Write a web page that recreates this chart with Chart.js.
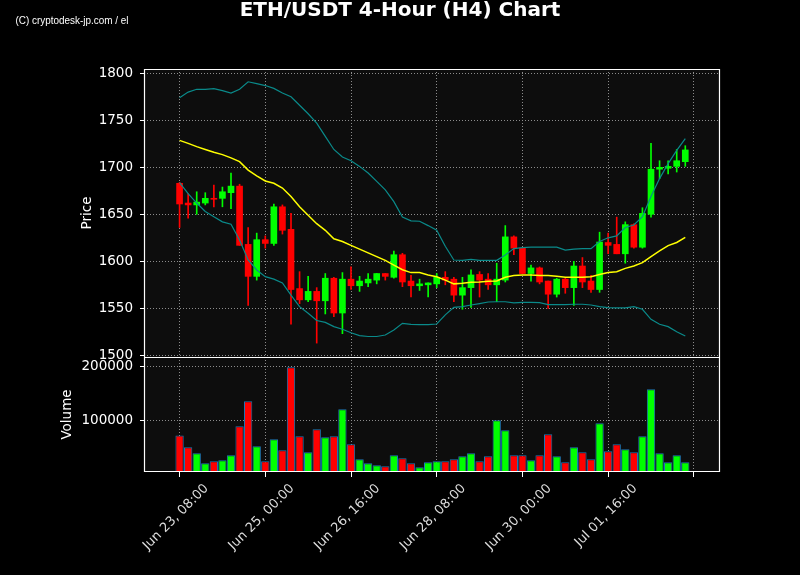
<!DOCTYPE html>
<html>
<head>
<meta charset="utf-8">
<script src="https://cdn.jsdelivr.net/npm/chart.js@4.4.1/dist/chart.umd.min.js"></script>
<style>
  body { margin: 0; background: #000; }
  canvas { position: absolute; left: 0; }
</style>
</head>
<body>
<canvas id="priceChart" width="800" height="385" style="top:0"></canvas>
<canvas id="volumeChart" width="800" height="235" style="top:340px"></canvas>
<script>
const titleText = 'ETH/USDT 4-Hour (H4) Chart';
const watermark = '(C) cryptodesk-jp.com / el';

// 4h candles, index 0 = Jun 23 08:00
const opens  = [1683,1662,1660,1662,1667,1667,1673,1680,1618,1584,1623,1619,1658,1634,1571,1559,1568,1558,1582,1545,
                1581,1574,1577,1580,1587,1583,1607,1579,1574,1575,1576,1583,1581,1564,1572,1586,1581,1575,1580,1626,
                1614,1587,1593,1579,1565,1581,1572,1595,1579,1570,1620,1618,1608,1639,1615,1650,1698,1699,1701,1706];
const highs  = [1684,1672,1674,1673,1681,1679,1694,1682,1636,1630,1627,1661,1660,1651,1589,1584,1572,1587,1583,1588,
                1594,1584,1587,1587,1587,1611,1608.5,1585,1581,1577,1587,1589,1583,1583,1591,1589,1587,1598,1638,1627,
                1614,1596,1594,1579,1582,1582,1600,1604,1585,1631,1630,1647,1642,1640,1657,1725.5,1707,1707,1719,1723];
const lows   = [1636,1646,1650,1660,1658,1658,1656,1617,1553,1580,1614,1617,1629,1533,1555,1557,1513,1544,1541,1523,
                1570,1568,1573,1576,1580,1582,1573,1562,1569,1562,1572,1575,1557,1549,1551,1562,1570,1557,1578,1607,
                1587,1579,1576,1550,1562,1566,1553,1572,1567,1567,1608,1608,1598,1614,1614,1647,1688,1693,1695,1701];
const closes = [1661,1660,1663,1667,1666,1674,1680,1617,1584,1623,1619,1658,1633,1570,1559,1568,1558,1582,1545,1581,
                1574,1579,1581,1587,1584,1607,1578,1574,1576,1577,1583,1580,1564,1572,1585.5,1580,1575,1581,1626,1614,
                1587,1593,1578,1565,1581,1572,1595,1578,1570,1620.5,1617,1608,1639,1615,1651,1698,1700,1701,1707,1718.5];
const volumes = [72000,50000,38900,20400,24100,26000,35200,88900,135200,51900,24100,64800,44400,198000,70400,40700,83300,68500,70400,120400,
                 55600,27800,20400,16700,14800,35200,29600,20400,13000,22200,24100,24100,27800,33300,38900,24100,33300,100000,81500,35200,
                 35200,26000,35200,74100,33300,22200,50000,40700,27800,94400,42600,55600,46300,40700,70400,157400,38900,22200,35200,22200];

// moving average and bollinger bands
const ma = [1728.7,1725.5,1722,1719,1716,1713.5,1710,1706,1697,1691,1685.5,1683,1678,1669,1658,1649,1640,1633,1624,1621,
            1617,1613,1609,1605,1601,1596,1591,1588,1588,1585.5,1583.5,1580,1576,1576.6,1577.7,1578,1578.7,1579,1583,1584.8,
            1585.5,1585.5,1585,1585,1584,1583,1583,1583,1583.6,1586,1588,1589,1592.5,1595,1598.6,1605,1611,1616.7,1620,1625.5];
const bbUpper = [1774,1780,1783,1783,1783.7,1781.6,1779,1783,1791,1789,1787,1784,1779,1775,1766,1757,1747,1733,1719,1711,
                 1707,1701,1694,1685,1676,1663.5,1647,1643,1642.6,1638,1633,1616,1601.4,1601,1602,1601,1601,1601,1606.7,1613.5,
                 1614.5,1615,1615,1615,1615,1612,1613,1613.5,1613.5,1621,1625,1627,1636,1638.6,1647.5,1669,1688,1704,1718,1730.5];
const bbLower = [1683.7,1672,1662,1653,1647.5,1642,1639.4,1622.7,1601.4,1590.8,1583.7,1581,1577,1564,1551.8,1544.7,1537,1535,1530.5,1527.7,
                 1524,1521,1520,1520,1521.6,1527,1534,1533,1532.6,1532.6,1533.3,1543,1551,1551.8,1553.5,1555,1556.7,1557,1557,1555.7,
                 1556.4,1556.4,1556,1554,1554,1554,1554.3,1554.3,1553.5,1551.8,1550.7,1550.4,1550.4,1551.8,1549,1538.3,1533,1530.5,1525,1520.6];

const tickIdx = [0, 10, 20, 30, 40, 50, 60];
const tickLabels = ['Jun 23, 08:00', 'Jun 25, 00:00', 'Jun 26, 16:00', 'Jun 28, 08:00', 'Jun 30, 00:00', 'Jul 01, 16:00', ''];
const priceTicks = [1500, 1550, 1600, 1650, 1700, 1750, 1800];
const volumeTicks = [100000, 200000];

const UP = '#00ff00';
const DOWN = '#ff0000';
const gridColor = '#8c8c8c';
const fontFamily = '"DejaVu Sans", sans-serif';

const candleColors = opens.map((o, i) => closes[i] >= o ? UP : DOWN);
const xy = arr => arr.map((v, i) => ({ x: i, y: v }));

const xRange = { type: 'linear', min: -4.15, max: 63.05, offset: false };
const setTicks = vals => axis => { axis.ticks = vals.map(v => ({ value: v })); };

// dark plot background + white frame around the plot area
const panelFrame = (skipBottom) => ({
    id: 'panelFrame',
    beforeDraw(chart) {
        const { ctx, chartArea: { left, top, right, bottom } } = chart;
        ctx.save();
        ctx.fillStyle = '#0d0d0d';
        ctx.fillRect(left, top, right - left, bottom - top);
        ctx.restore();
    },
    afterDraw(chart) {
        const { ctx, chartArea: { left, top, right, bottom } } = chart;
        ctx.save();
        ctx.strokeStyle = '#ffffff';
        ctx.lineWidth = 1.2;
        ctx.beginPath();
        ctx.moveTo(left + 0.5, bottom);
        ctx.lineTo(left + 0.5, top + 0.5);
        ctx.lineTo(right - 0.5, top + 0.5);
        ctx.lineTo(right - 0.5, bottom);
        if (!skipBottom) {
            ctx.moveTo(left, bottom - 0.5);
            ctx.lineTo(right, bottom - 0.5);
        }
        ctx.stroke();
        ctx.restore();
    }
});

const headerText = {
    id: 'headerText',
    afterDraw(chart) {
        const ctx = chart.ctx;
        ctx.save();
        ctx.fillStyle = '#ffffff';
        ctx.font = 'bold 20px ' + fontFamily;
        ctx.textAlign = 'center';
        ctx.textBaseline = 'middle';
        ctx.fillText(titleText, 400, 11);

        ctx.font = '10px "Liberation Sans", sans-serif';
        const w = ctx.measureText(watermark).width;
        ctx.translate(15.5, 21);
        ctx.scale(113 / w, 1);
        ctx.textAlign = 'left';
        ctx.fillText(watermark, 0, 0);
        ctx.restore();
    }
};

new Chart(document.getElementById('priceChart'), {
    data: {
        datasets: [
            { type: 'line', data: xy(ma), borderColor: '#ffff00', borderWidth: 1.5, pointRadius: 0 },
            { type: 'line', data: xy(bbUpper), borderColor: '#0a8a8a', borderWidth: 1.2, pointRadius: 0 },
            { type: 'line', data: xy(bbLower), borderColor: '#0a8a8a', borderWidth: 1.2, pointRadius: 0 },
            {
                type: 'bar', grouped: false, barThickness: 6, minBarLength: 1,
                data: opens.map((o, i) => ({ x: i, y: [o, closes[i]] })),
                backgroundColor: candleColors
            },
            {
                type: 'bar', grouped: false, barThickness: 1,
                data: lows.map((l, i) => ({ x: i, y: [l, highs[i]] })),
                backgroundColor: candleColors
            }
        ]
    },
    options: {
        responsive: false,
        animation: false,
        layout: { padding: { left: 75, right: 80, top: 69, bottom: 28 } },
        plugins: { legend: { display: false }, tooltip: { enabled: false } },
        scales: {
            x: {
                ...xRange,
                afterBuildTicks: setTicks(tickIdx),
                afterFit: axis => { axis.height = 0; },
                ticks: { display: false },
                grid: { color: gridColor, drawTicks: false, offset: false },
                border: { display: false, dash: [1, 2] }
            },
            y: {
                min: 1498.2,
                max: 1804.6,
                afterBuildTicks: setTicks(priceTicks),
                afterFit: axis => { axis.width = 69; },
                ticks: {
                    color: '#ffffff', padding: 7, font: { size: 13.5, family: fontFamily },
                    callback: v => String(v)
                },
                grid: { color: gridColor, tickColor: '#ffffff', tickLength: 4, tickBorderDash: [] },
                border: { display: false, dash: [1, 2] },
                title: {
                    display: true, text: 'Price', color: '#ffffff',
                    font: { size: 13.5, family: fontFamily }, padding: { top: 4, bottom: 4 }
                }
            }
        }
    },
    plugins: [panelFrame(true), headerText]
});

new Chart(document.getElementById('volumeChart'), {
    type: 'bar',
    data: {
        datasets: [{
            data: xy(volumes),
            backgroundColor: candleColors,
            borderColor: '#1f77b4',
            borderWidth: 1,
            barPercentage: 0.97,
            categoryPercentage: 1
        }]
    },
    options: {
        responsive: false,
        animation: false,
        layout: { padding: { left: 55, right: 80, top: 17, bottom: 0 } },
        plugins: { legend: { display: false }, tooltip: { enabled: false } },
        scales: {
            x: {
                ...xRange,
                afterBuildTicks: setTicks(tickIdx),
                afterFit: axis => { axis.height = 103; },
                ticks: {
                    autoSkip: false, minRotation: 45, maxRotation: 45,
                    labelOffset: 27, padding: 4, color: '#dddddd',
                    font: { size: 13, family: fontFamily },
                    callback: v => tickLabels[tickIdx.indexOf(v)]
                },
                grid: { color: gridColor, tickColor: '#ffffff', tickLength: 5, tickBorderDash: [], offset: false },
                border: { display: false, dash: [1, 2] }
            },
            y: {
                min: 4260,
                max: 217200,
                afterBuildTicks: setTicks(volumeTicks),
                afterFit: axis => { axis.width = 89; },
                ticks: {
                    color: '#ffffff', padding: 7, font: { size: 13.5, family: fontFamily },
                    callback: v => String(v)
                },
                grid: { color: gridColor, tickColor: '#ffffff', tickLength: 4, tickBorderDash: [] },
                border: { display: false, dash: [1, 2] },
                title: {
                    display: true, text: 'Volume', color: '#ffffff',
                    font: { size: 13.5, family: fontFamily }, padding: { top: 4, bottom: 4 }
                }
            }
        }
    },
    plugins: [panelFrame(false)]
});
</script>
</body>
</html>
